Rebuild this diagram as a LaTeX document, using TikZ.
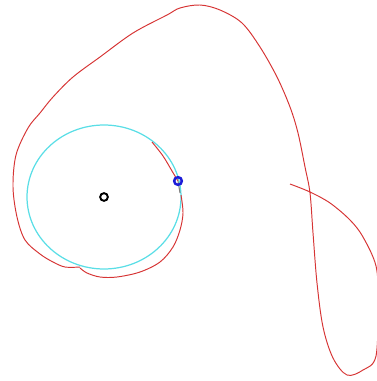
\documentclass[tikz,border=0pt]{standalone}
\definecolor{orbitred}{RGB}{214,52,52}
\definecolor{ringcyan}{RGB}{90,222,230}
\definecolor{markblue}{RGB}{28,28,215}
\begin{document}
\begin{tikzpicture}[x=0.02cm,y=-0.02cm,
  orbit/.style={orbitred,line width=0.55pt},
  dot/.style={circle,draw,line width=1.1pt,minimum size=4.4pt,inner sep=0pt}]
\useasboundingbox (0,0) rectangle (377,381);
\clip (0,0) rectangle (377,381);
\draw[ringcyan,line width=0.7pt] (104,197) ellipse (1.54cm and 1.44cm);
% path of the body
\draw[orbit] plot[smooth,tension=0.55] coordinates {
  (152,142) (163,156) (172,171) (178,181)};
\draw[gray,line width=0.6pt] (178,181)--(180,193);
\draw[orbit] plot[smooth,tension=0.55] coordinates {
  (181,195) (183,213) (180,230) (173,247) (160,262) (140,272) (117,277) (100,277)
  (87,273) (80,268)};
\draw[orbit] plot[smooth,tension=0.55] coordinates {
  (80,267) (65,267) (53,262) (40,254) (25,240) (17,217) (13,187) (16,155) (28,128)
  (40,113) (53,97) (73,77) (100,57) (133,33) (167,15) (180,8) (200,5) (220,10)
  (242,23) (260,47) (277,77) (290,107) (298,133) (305,167) (310,193) (313,233)
  (317,283) (323,327) (333,358) (347,375) (363,370) (376,356) (378,300) (376,266)
  (363,237) (350,220) (330,203) (310,192) (290,184)};
\node[dot,black] (centre) at (104,197) {};
\node[dot,markblue,line width=1.4pt] (body) at (178,181) {};
\end{tikzpicture}
\end{document}
